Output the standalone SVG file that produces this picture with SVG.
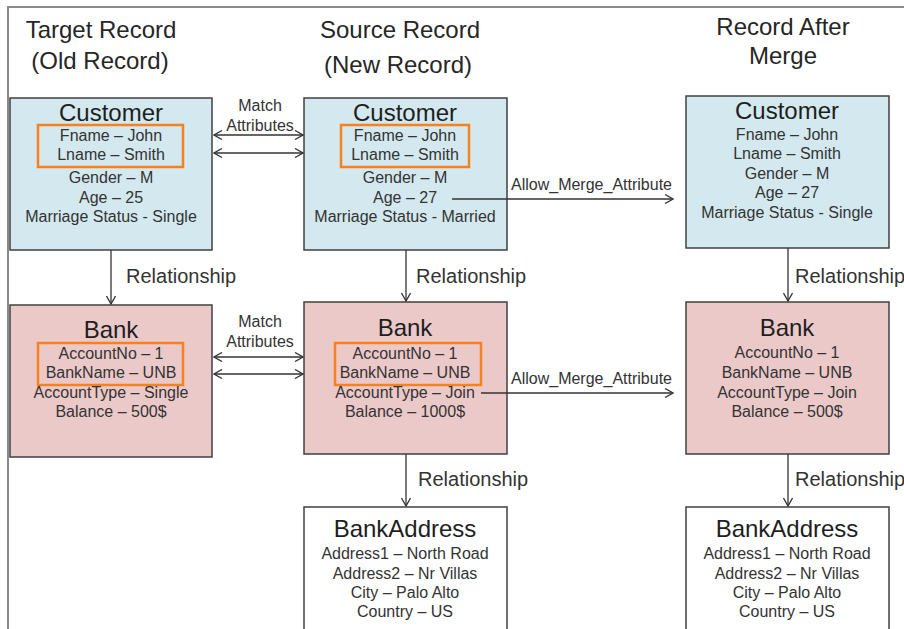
<svg xmlns="http://www.w3.org/2000/svg" width="904" height="629" viewBox="0 0 904 629">
  <style>
    .frame { fill: none; stroke: #8a8a8a; stroke-width: 2; }
    .box { stroke: #404040; stroke-width: 1.5; }
    .cust { fill: #d3e9ef; }
    .bank { fill: #ecc9c9; }
    .addr { fill: #ffffff; }
    .key { fill: none; stroke: #f5821f; stroke-width: 2.5; }
    .head { font-family: "Liberation Sans", Arial, sans-serif; font-size: 24px; fill: #262626; text-anchor: middle; }
    .title { font-family: "Liberation Sans", Arial, sans-serif; font-size: 24px; fill: #1e1e1e; text-anchor: middle; }
    .attr { font-family: "Liberation Sans", Arial, sans-serif; font-size: 16px; fill: #333333; text-anchor: middle; }
    .lbl { font-family: "Liberation Sans", Arial, sans-serif; font-size: 16px; fill: #333333; }
    .rel { font-family: "Liberation Sans", Arial, sans-serif; font-size: 20px; fill: #333333; }
    .match { font-family: "Liberation Sans", Arial, sans-serif; font-size: 16px; fill: #333333; text-anchor: middle; }
    .conn { fill: none; stroke: #333333; stroke-width: 1.3; }
  </style>
  <defs>
    <marker id="arrowEnd" viewBox="0 0 10 10" refX="9" refY="5" markerWidth="10" markerHeight="10" markerUnits="userSpaceOnUse" orient="auto">
      <path d="M1,0.5 L9,5 L1,9.5" fill="none" stroke="#333333" stroke-width="1.3"/>
    </marker>
    <marker id="arrowStart" viewBox="0 0 10 10" refX="1" refY="5" markerWidth="10" markerHeight="10" markerUnits="userSpaceOnUse" orient="auto">
      <path d="M9,0.5 L1,5 L9,9.5" fill="none" stroke="#333333" stroke-width="1.3"/>
    </marker>
  </defs>

  <rect width="904" height="629" fill="#ffffff"/>
  <path class="frame" d="M8,629 L8,7 L904,7"/>

  <!-- column headings -->
  <text class="head" x="101" y="38">Target Record</text>
  <text class="head" x="100" y="69">(Old Record)</text>
  <text class="head" x="400" y="38">Source Record</text>
  <text class="head" x="398" y="73">(New Record)</text>
  <text class="head" x="783" y="35">Record After</text>
  <text class="head" x="783" y="64">Merge</text>

  <!-- target record -->
  <g id="target-customer">
    <rect class="box cust" x="10" y="98" width="202" height="152"/>
    <rect class="key" x="38" y="125" width="145" height="42"/>
    <text class="title" x="111" y="121">Customer</text>
    <text class="attr" x="111" y="141">Fname – John</text>
    <text class="attr" x="111" y="160">Lname – Smith</text>
    <text class="attr" x="111" y="183">Gender – M</text>
    <text class="attr" x="111" y="203">Age – 25</text>
    <text class="attr" x="111" y="222">Marriage Status - Single</text>
  </g>
  <g id="target-bank">
    <rect class="box bank" x="10" y="305" width="202" height="152"/>
    <rect class="key" x="38" y="343" width="145" height="42"/>
    <text class="title" x="111" y="338">Bank</text>
    <text class="attr" x="111" y="359">AccountNo – 1</text>
    <text class="attr" x="111" y="378">BankName – UNB</text>
    <text class="attr" x="111" y="398">AccountType – Single</text>
    <text class="attr" x="111" y="417">Balance – 500$</text>
  </g>

  <!-- source record -->
  <g id="source-customer">
    <rect class="box cust" x="304" y="98" width="203" height="152"/>
    <rect class="key" x="341" y="125" width="128" height="42"/>
    <text class="title" x="405" y="121">Customer</text>
    <text class="attr" x="405" y="141">Fname – John</text>
    <text class="attr" x="405" y="160">Lname – Smith</text>
    <text class="attr" x="405" y="183">Gender – M</text>
    <text class="attr" x="405" y="203">Age – 27</text>
    <text class="attr" x="405" y="222">Marriage Status - Married</text>
  </g>
  <g id="source-bank">
    <rect class="box bank" x="304" y="302" width="203" height="152"/>
    <rect class="key" x="335" y="343" width="146" height="42"/>
    <text class="title" x="405" y="336">Bank</text>
    <text class="attr" x="405" y="359">AccountNo – 1</text>
    <text class="attr" x="405" y="378">BankName – UNB</text>
    <text class="attr" x="405" y="398">AccountType – Join</text>
    <text class="attr" x="405" y="417">Balance – 1000$</text>
  </g>
  <g id="source-bankaddress">
    <rect class="box addr" x="304" y="507" width="203" height="140"/>
    <text class="title" x="405" y="537">BankAddress</text>
    <text class="attr" x="405" y="559">Address1 – North Road</text>
    <text class="attr" x="405" y="579">Address2 – Nr Villas</text>
    <text class="attr" x="405" y="598">City – Palo Alto</text>
    <text class="attr" x="405" y="617">Country – US</text>
  </g>

  <!-- merged record -->
  <g id="merged-customer">
    <rect class="box cust" x="686" y="96" width="203" height="152"/>
    <text class="title" x="787" y="119">Customer</text>
    <text class="attr" x="787" y="140">Fname – John</text>
    <text class="attr" x="787" y="159">Lname – Smith</text>
    <text class="attr" x="787" y="179">Gender – M</text>
    <text class="attr" x="787" y="198">Age – 27</text>
    <text class="attr" x="787" y="218">Marriage Status - Single</text>
  </g>
  <g id="merged-bank">
    <rect class="box bank" x="686" y="302" width="203" height="152"/>
    <text class="title" x="787" y="336">Bank</text>
    <text class="attr" x="787" y="358">AccountNo – 1</text>
    <text class="attr" x="787" y="378">BankName – UNB</text>
    <text class="attr" x="787" y="398">AccountType – Join</text>
    <text class="attr" x="787" y="417">Balance – 500$</text>
  </g>
  <g id="merged-bankaddress">
    <rect class="box addr" x="686" y="507" width="203" height="140"/>
    <text class="title" x="787" y="537">BankAddress</text>
    <text class="attr" x="787" y="559">Address1 – North Road</text>
    <text class="attr" x="787" y="579">Address2 – Nr Villas</text>
    <text class="attr" x="787" y="598">City – Palo Alto</text>
    <text class="attr" x="787" y="617">Country – US</text>
  </g>

  <!-- connectors (drawn over the boxes so merge lines start at the attribute) -->
  <g id="connectors">
    <path class="conn" d="M214,135 L303,135" marker-start="url(#arrowStart)" marker-end="url(#arrowEnd)"/>
    <path class="conn" d="M214,153 L303,153" marker-start="url(#arrowStart)" marker-end="url(#arrowEnd)"/>
    <text class="match" x="260" y="111">Match</text>
    <text class="match" x="260" y="131">Attributes</text>

    <path class="conn" d="M214,357 L303,357" marker-start="url(#arrowStart)" marker-end="url(#arrowEnd)"/>
    <path class="conn" d="M214,374 L303,374" marker-start="url(#arrowStart)" marker-end="url(#arrowEnd)"/>
    <text class="match" x="260" y="327">Match</text>
    <text class="match" x="260" y="347">Attributes</text>

    <path class="conn" d="M452,199 L673,199" marker-end="url(#arrowEnd)"/>
    <text class="lbl" x="511" y="190">Allow_Merge_Attribute</text>
    <path class="conn" d="M481,393 L673,393" marker-end="url(#arrowEnd)"/>
    <text class="lbl" x="511" y="384">Allow_Merge_Attribute</text>

    <path class="conn" d="M111,250 L111,304" marker-end="url(#arrowEnd)"/>
    <text class="rel" x="126" y="283">Relationship</text>
    <path class="conn" d="M406,250 L406,301" marker-end="url(#arrowEnd)"/>
    <text class="rel" x="416" y="283">Relationship</text>
    <path class="conn" d="M788,248 L788,301" marker-end="url(#arrowEnd)"/>
    <text class="rel" x="795" y="283">Relationship</text>

    <path class="conn" d="M406,454 L406,506" marker-end="url(#arrowEnd)"/>
    <text class="rel" x="418" y="486">Relationship</text>
    <path class="conn" d="M788,454 L788,506" marker-end="url(#arrowEnd)"/>
    <text class="rel" x="795" y="486">Relationship</text>
  </g>
</svg>
